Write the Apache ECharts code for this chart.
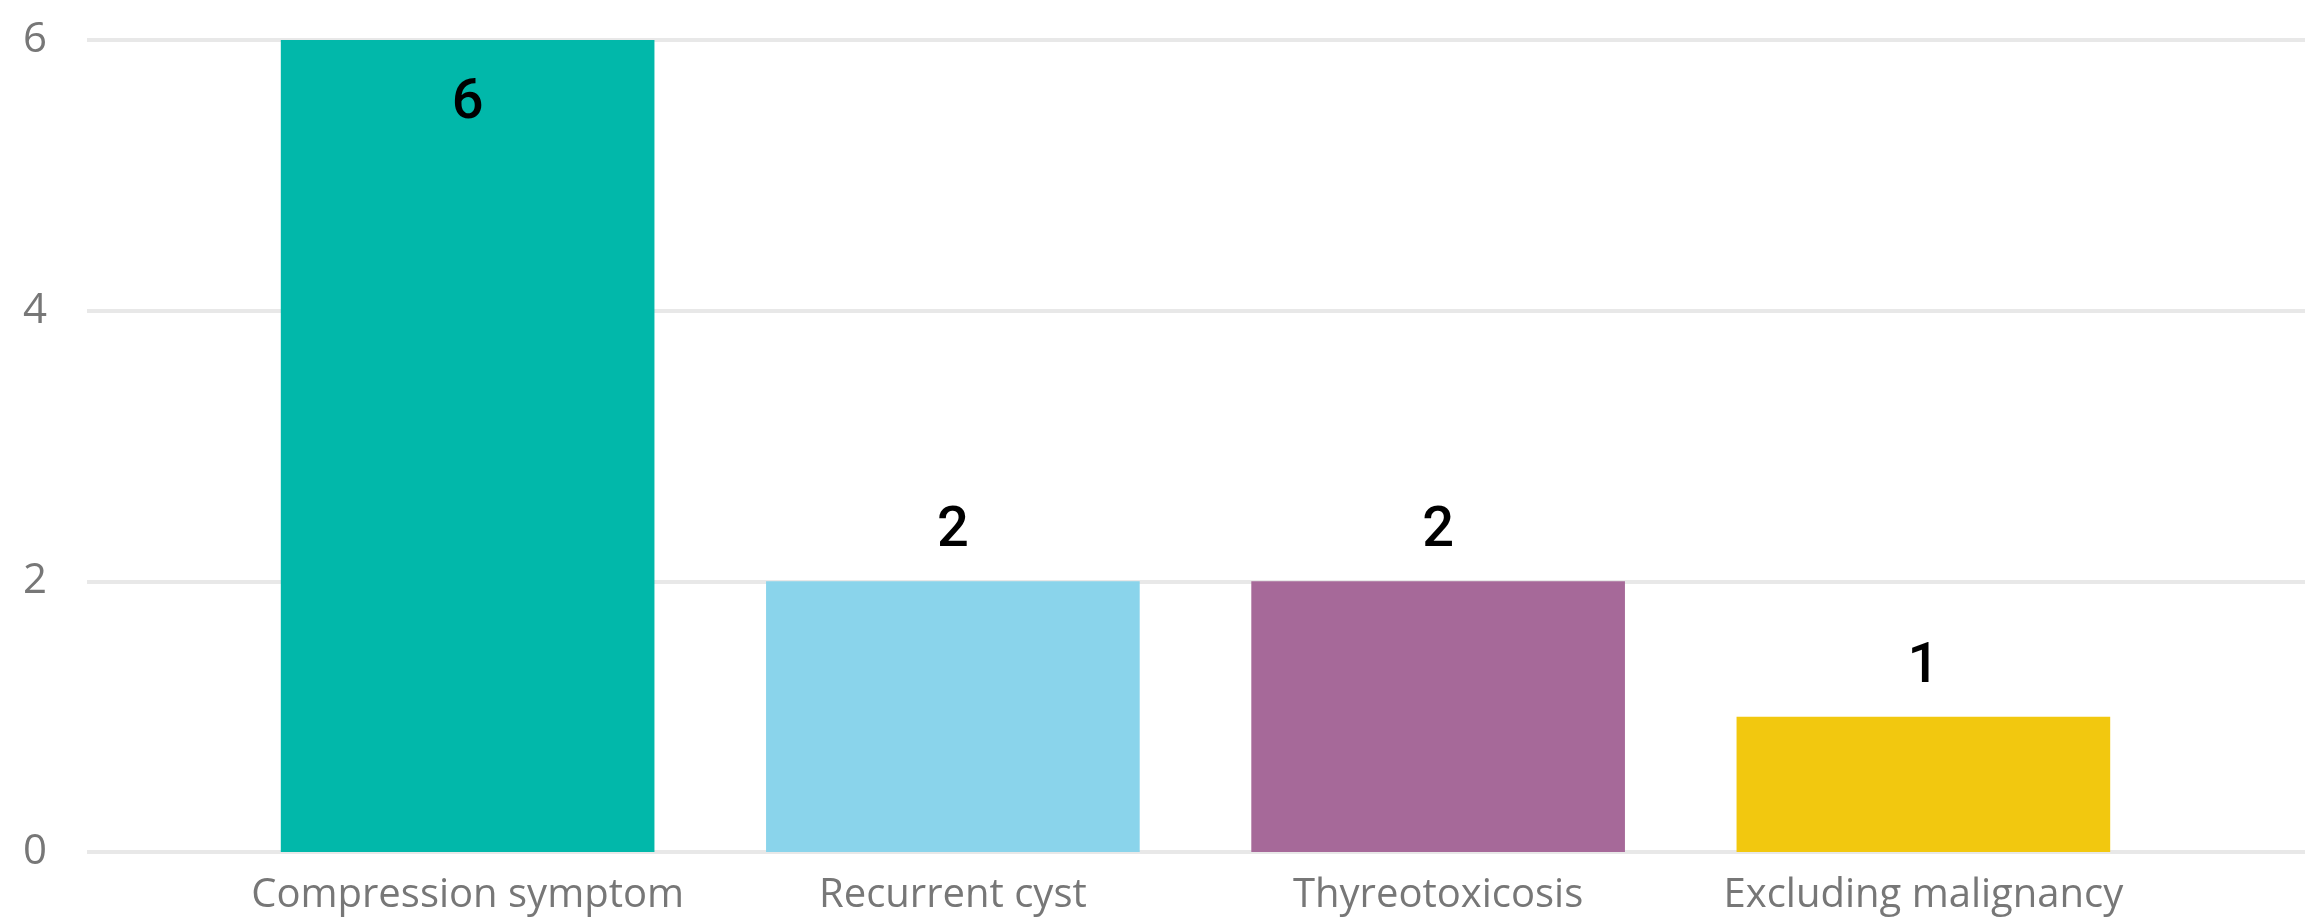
<!DOCTYPE html>
<html>
<head>
<meta charset="utf-8">
<script src="https://cdn.jsdelivr.net/npm/echarts@6/dist/echarts.min.js"></script>
<style>
html,body{margin:0;padding:0;background:#fff;}
#c{width:2305px;height:920px;}
</style>
</head>
<body>
<div id="c"></div>
<script>
var categories = ['Compression symptom', 'Recurrent cyst', 'Thyreotoxicosis', 'Excluding malignancy'];
var values = [6, 2, 2, 1];
var barColors = ['#01B8AA', '#8AD4EB', '#A66999', '#F2C80F'];
var yTicks = [0, 2, 4, 6];

var chart = echarts.init(document.getElementById('c'), null, {renderer: 'canvas'});
var yMax = yTicks[yTicks.length - 1];

var data = values.map(function (v, i) {
  var item = {value: v, itemStyle: {color: barColors[i]}};
  if (v === yMax) {
    item.label = {position: 'insideTop', distance: 36};
  }
  return item;
});

chart.setOption({
  animation: false,
  backgroundColor: '#ffffff',
  grid: [
    {left: 87, right: 0, top: 40, bottom: 68, containLabel: false},
    {left: 225, right: 139, top: 40, bottom: 68, containLabel: false}
  ],
  xAxis: [
    {gridIndex: 0, type: 'value', show: false, min: 0, max: 1},
    {
      gridIndex: 1, type: 'category', data: categories,
      axisLine: {show: false}, axisTick: {show: false},
      axisLabel: {interval: 0, color: '#777777', fontSize: 40, fontFamily: 'Open Sans', margin: 24}
    }
  ],
  yAxis: [
    {
      gridIndex: 0, type: 'value', min: 0, max: yMax, interval: 2,
      axisLine: {show: false}, axisTick: {show: false},
      axisLabel: {color: '#777777', fontSize: 42, fontFamily: 'Open Sans', margin: 40},
      splitLine: {show: true, lineStyle: {color: '#E8E8E8', width: 4}}
    },
    {
      gridIndex: 1, type: 'value', min: 0, max: yMax, interval: 2,
      axisLine: {show: false}, axisTick: {show: false}, axisLabel: {show: false},
      splitLine: {show: false}
    }
  ],
  series: [{
    type: 'bar',
    xAxisIndex: 1, yAxisIndex: 1,
    data: data,
    barCategoryGap: '23%',
    label: {
      show: true, position: 'top', distance: 21,
      color: '#000000', fontSize: 56, fontWeight: 500, fontFamily: 'Roboto'
    }
  }]
});
</script>
</body>
</html>
